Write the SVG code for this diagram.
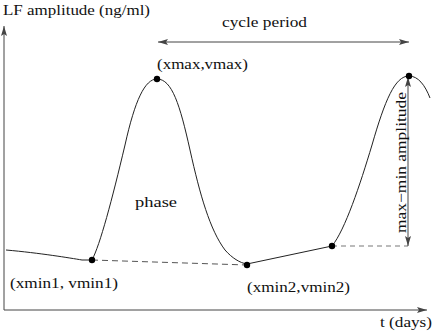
<svg xmlns="http://www.w3.org/2000/svg" width="436" height="333" viewBox="0 0 436 333">
<style>
.ax{stroke:#444;stroke-width:1;fill:none}
.cv{stroke:#222;stroke-width:1;fill:none}
.dot{fill:#000}
</style>
<defs>
<marker id="ah" viewBox="0 0 10 6" refX="10" refY="3" markerWidth="10" markerHeight="6" markerUnits="userSpaceOnUse" orient="auto-start-reverse">
<path d="M0,0 L10,3 L0,6 L2,3 Z" fill="#444"/>
</marker>
</defs>
<g id="axes" font-family="Liberation Serif, serif" font-size="15" fill="#111">
<line class="ax" x1="4" y1="310" x2="4" y2="26" marker-end="url(#ah)"/>
<line class="ax" x1="4" y1="310" x2="427" y2="310" marker-end="url(#ah)"/>
<text x="3" y="15" textLength="147" lengthAdjust="spacingAndGlyphs">LF amplitude (ng/ml)</text>
<text x="380" y="327" textLength="52" lengthAdjust="spacingAndGlyphs">t (days)</text>
</g>
<g id="connectors">
<path class="cv" d="M6,250 C40,253 70,258 82,260 L92,260 C100,245 112,200 125,145 C135,100 145,79 157,79 C172,79 180,105 190,150 C200,195 210,230 225,250 C232,258 240,263 247,264 L332,246 C345,230 360,185 372,145 C385,100 395,76 409,76 C418,76 425,85 430,98"/>
<line x1="92" y1="260" x2="247" y2="265" stroke="#555" stroke-width="1" stroke-dasharray="6,4"/>
<line x1="332" y1="246" x2="408" y2="246" stroke="#bbb" stroke-width="2" stroke-dasharray="5,4"/>
<line class="ax" x1="158" y1="42" x2="409" y2="42" marker-start="url(#ah)" marker-end="url(#ah)"/>
<line class="ax" x1="408" y1="77" x2="408" y2="246" marker-start="url(#ah)" marker-end="url(#ah)"/>
</g>
<g id="labels" font-family="Liberation Serif, serif" font-size="15" fill="#111">
<text x="222" y="27" textLength="85" lengthAdjust="spacingAndGlyphs">cycle period</text>
<text x="157" y="69" textLength="91" lengthAdjust="spacingAndGlyphs">(xmax,vmax)</text>
<text x="135" y="207" textLength="42" lengthAdjust="spacingAndGlyphs">phase</text>
<text x="10" y="288" textLength="108" lengthAdjust="spacingAndGlyphs">(xmin1, vmin1)</text>
<text x="247" y="292" textLength="103" lengthAdjust="spacingAndGlyphs">(xmin2,vmin2)</text>
<text transform="translate(406,233) rotate(-90)" textLength="141" lengthAdjust="spacingAndGlyphs">max−min amplitude</text>
</g>
<g id="n_max1"><circle class="dot" cx="157" cy="79" r="3.2"/></g>
<g id="n_max2"><circle class="dot" cx="409" cy="76" r="3.2"/></g>
<g id="n_min1"><circle class="dot" cx="92" cy="260" r="3.2"/></g>
<g id="n_min2"><circle class="dot" cx="247" cy="265" r="3.2"/></g>
<g id="n_mid"><circle class="dot" cx="332" cy="246" r="3.2"/></g>
</svg>
